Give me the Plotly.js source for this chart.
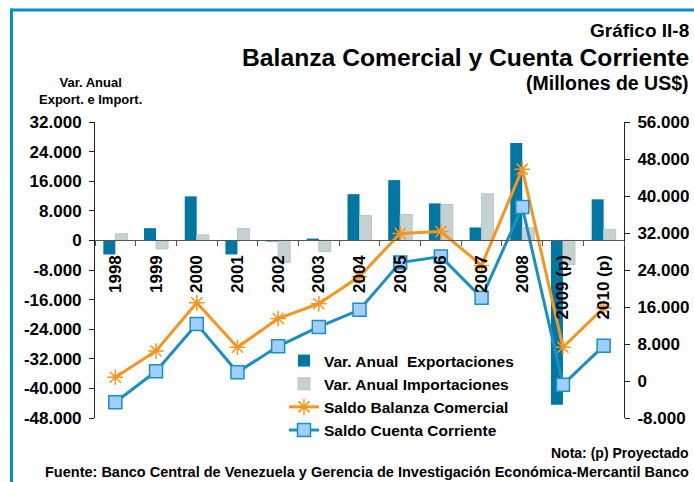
<!DOCTYPE html>
<html>
<head>
<meta charset="utf-8">
<script src="https://cdn.plot.ly/plotly-3.0.1.min.js"></script>
<style>html,body{margin:0;padding:0;background:#fff;}#chart{width:694px;height:482px;}</style>
</head>
<body>
<div id="chart"></div>
<script>
// ---- data ----
var years = ['1998','1999','2000','2001','2002','2003','2004','2005','2006','2007','2008','2009 (p)','2010 (p)'];
var varExport = [-3800, 3300, 11900, -3800, -300, 500, 12500, 16300, 10000, 3500, 26300, -44400, 11100];
var varImport = [1800, -2300, 1500, 3200, -6000, -3000, 6700, 7000, 9700, 12600, 3400, -6500, 3000];
var saldoBalanza = [800, 6500, 16900, 7300, 13500, 16700, 22600, 31900, 32300, 25000, 45800, 7300, 15800];
var saldoCuenta = [-4600, 2100, 12300, 1900, 7500, 11700, 15400, 25600, 26900, 18000, 37600, -800, 7600];
var leftTicks = [32000, 24000, 16000, 8000, 0, -8000, -16000, -24000, -32000, -40000, -48000];
var leftTickText = ['32.000','24.000','16.000','8.000','0','-8.000','-16.000','-24.000','-32.000','-40.000','-48.000'];
var rightTicks = [56000, 48000, 40000, 32000, 24000, 16000, 8000, 0, -8000];
var rightTickText = ['56.000','48.000','40.000','32.000','24.000','16.000','8.000','0','-8.000'];
var seriesNames = ['Var. Anual \u00a0Exportaciones', 'Var. Anual Importaciones', 'Saldo Balanza Comercial', 'Saldo Cuenta Corriente'];

var FONT = 'Liberation Sans, Arial, Helvetica, sans-serif';
var BLUE_FRAME = '#0090C2';

var traces = [
  {type:'bar', name: seriesNames[0], x: years, y: varExport, yaxis:'y', xaxis:'x',
   marker:{color:'#0077A3'}},
  {type:'bar', name: seriesNames[1], x: years, y: varImport, yaxis:'y', xaxis:'x',
   marker:{color:'#C6D1D1', line:{color:'#B9C5C5', width:1}}},
  {type:'scatter', mode:'lines+markers', name: seriesNames[2], x: years, y: saldoBalanza, yaxis:'y2', xaxis:'x',
   line:{color:'#F7941D', width:3},
   marker:{symbol:'asterisk-open', size:13, color:'#F7941D', line:{color:'#F7941D', width:1.5}}},
  {type:'scatter', mode:'lines+markers', name: seriesNames[3], x: years, y: saldoCuenta, yaxis:'y2', xaxis:'x',
   line:{color:'#1A8FC0', width:3},
   marker:{symbol:'square', size:13, color:'#9ECFFF', line:{color:'#1A8FC0', width:1.5}}}
];

// plot area: x 95..624, y 122..418
function px(p){ return (p - 95) / 529; }
function py(p){ return (418 - p) / 296; }

var layout = {
  width: 694, height: 482,
  margin: {l:95, r:70, t:122, b:64, pad:0},
  paper_bgcolor:'#ffffff', plot_bgcolor:'rgba(0,0,0,0)',
  font: {family: FONT, size: 16, color:'#000', weight:'bold'},
  barmode:'group', bargap:0.41, bargroupgap:0,
  showlegend: true,
  legend: {x: px(284), y: py(344), xanchor:'left', yanchor:'top', bgcolor:'rgba(0,0,0,0)',
           font:{family: FONT, size:15.5, color:'#000', weight:'bold'}, tracegroupgap:0, traceorder:'normal'},
  xaxis: {type:'category', range:[-0.5, 12.5], anchor:'free', position: 0.6,
          showline:true, linecolor:'#555', linewidth:1, ticks:'outside', ticklen:5, tickcolor:'#555',
          tickson:'boundaries', tickangle:-90, ticklabelstandoff:7, showgrid:false, zeroline:false,
          tickfont:{family: FONT, size:17, color:'#000', weight:'bold'}, fixedrange:true},
  yaxis: {range:[-48000, 32000], tickvals:leftTicks, ticktext:leftTickText, showgrid:false, zeroline:false,
          showline:true, linecolor:'#222', linewidth:1, ticks:'outside', ticklen:5, tickcolor:'#222',
          ticklabelstandoff:4, tickfont:{family: FONT, size:17, color:'#000', weight:'bold'}},
  yaxis2: {range:[-8000, 56000], tickvals:rightTicks, ticktext:rightTickText, overlaying:'y', side:'right',
           anchor:'x', showgrid:false, zeroline:false, showline:true, linecolor:'#222', linewidth:1,
           ticks:'outside', ticklen:5, tickcolor:'#222', ticklabelstandoff:4,
           tickfont:{family: FONT, size:17, color:'#000', weight:'bold'}},
  shapes: [
    {type:'line', xref:'paper', yref:'paper', x0:px(11), x1:px(694), y0:py(10), y1:py(10), line:{color:BLUE_FRAME, width:3}},
    {type:'line', xref:'paper', yref:'paper', x0:px(11.5), x1:px(11.5), y0:py(8.5), y1:py(482), line:{color:BLUE_FRAME, width:3}}
  ],
  annotations: [
    {text:'Gráfico II-8', xref:'paper', yref:'paper', x:px(691), y:py(30), xanchor:'right', yanchor:'middle', showarrow:false,
     font:{family: FONT, size:19, color:'#000', weight:'bold'}},
    {text:'Balanza Comercial y Cuenta Corriente', xref:'paper', yref:'paper', x:px(691), y:py(57), xanchor:'right', yanchor:'middle', showarrow:false,
     font:{family: FONT, size:24.7, color:'#000', weight:'bold'}},
    {text:'(Millones de US$)', xref:'paper', yref:'paper', x:px(691), y:py(83), xanchor:'right', yanchor:'middle', showarrow:false,
     font:{family: FONT, size:19.5, color:'#000', weight:'bold'}},
    {text:'Var. Anual<br>Export. e Import.', xref:'paper', yref:'paper', x:px(90), y:py(91), xanchor:'center', yanchor:'middle', showarrow:false,
     align:'center', font:{family: FONT, size:13, color:'#000', weight:'bold'}},
    {text:'Nota: (p) Proyectado', xref:'paper', yref:'paper', x:px(691), y:py(453), xanchor:'right', yanchor:'middle', showarrow:false,
     font:{family: FONT, size:14, color:'#000', weight:'bold'}},
    {text:'Fuente: Banco Central de Venezuela y Gerencia de Investigación Económica-Mercantil Banco', xref:'paper', yref:'paper', x:px(691), y:py(472), xanchor:'right', yanchor:'middle', showarrow:false,
     font:{family: FONT, size:14.5, color:'#000', weight:'bold'}}
  ]
};

Plotly.newPlot('chart', traces, layout, {displayModeBar:false, staticPlot:true});
</script>
</body>
</html>
